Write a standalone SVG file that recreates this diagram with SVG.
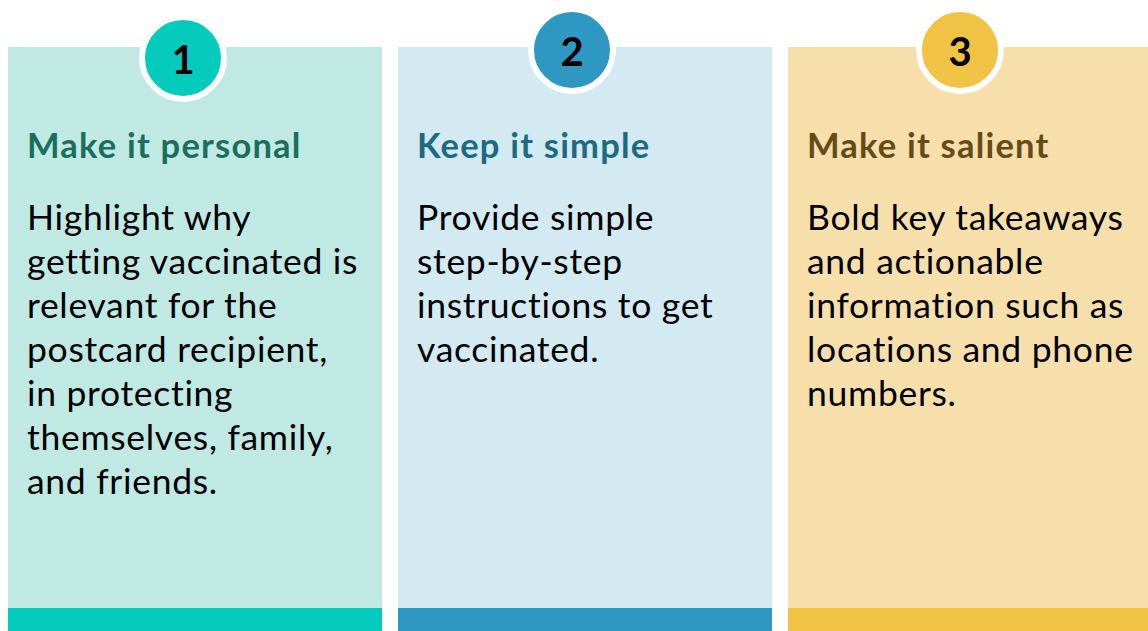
<svg xmlns="http://www.w3.org/2000/svg" width="1148" height="631" viewBox="0 0 1148 631">
<style>
.title{font-family:Lato,"Liberation Sans",sans-serif;font-weight:bold;font-size:34.5px;letter-spacing:1.2px}
.body{font-family:Lato,"Liberation Sans",sans-serif;font-size:35.5px;letter-spacing:0.7px;fill:#000}
.num{font-family:Lato,"Liberation Sans",sans-serif;font-weight:bold;font-size:40px;fill:#000;text-anchor:middle}
.ring{stroke:#fff;stroke-width:6}
</style>
<rect width="1148" height="631" fill="#fff"/>
<g id="card1">
<rect x="8" y="47" width="374" height="584" fill="#bfe9e2"/>
<rect x="8" y="608" width="374" height="23" fill="#04cbbb"/>
<circle class="ring" cx="183" cy="58" r="41" fill="#04cbbb"/>
<text class="num" x="183" y="74">1</text>
<text class="title" x="27" y="158" fill="#1a6e5e">Make it personal</text>
<text class="body" x="27" y="230">Highlight why</text>
<text class="body" x="27" y="274">getting vaccinated is</text>
<text class="body" x="27" y="318">relevant for the</text>
<text class="body" x="27" y="362">postcard recipient,</text>
<text class="body" x="27" y="406">in protecting</text>
<text class="body" x="27" y="450">themselves, family,</text>
<text class="body" x="27" y="494">and friends.</text>
</g>
<g id="card2">
<rect x="398" y="47" width="374" height="584" fill="#d3eaf2"/>
<rect x="398" y="608" width="374" height="23" fill="#2e98c3"/>
<circle class="ring" cx="572" cy="50" r="41" fill="#2e98c3"/>
<text class="num" x="572" y="66">2</text>
<text class="title" x="417" y="158" fill="#1d6a82">Keep it simple</text>
<text class="body" x="417" y="230">Provide simple</text>
<text class="body" x="417" y="274">step-by-step</text>
<text class="body" x="417" y="318">instructions to get</text>
<text class="body" x="417" y="362">vaccinated.</text>
</g>
<g id="card3">
<rect x="788" y="47" width="360" height="584" fill="#f7dfac"/>
<rect x="788" y="608" width="360" height="23" fill="#f1c344"/>
<circle class="ring" cx="960" cy="50" r="41" fill="#f1c344"/>
<text class="num" x="960" y="66">3</text>
<text class="title" x="807" y="158" fill="#654a1a">Make it salient</text>
<text class="body" x="807" y="230">Bold key takeaways</text>
<text class="body" x="807" y="274">and actionable</text>
<text class="body" x="807" y="318">information such as</text>
<text class="body" x="807" y="362">locations and phone</text>
<text class="body" x="807" y="406">numbers.</text>
</g>
<g id="connectors"/>
</svg>
